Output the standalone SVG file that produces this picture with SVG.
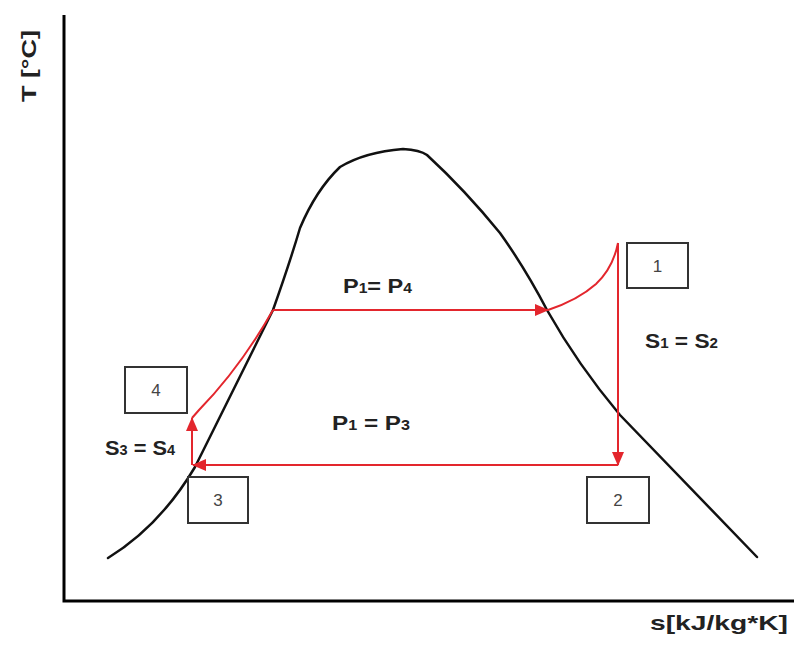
<svg xmlns="http://www.w3.org/2000/svg" width="794" height="648" viewBox="0 0 794 648">
<style>
.axis{stroke:#000;stroke-width:3;fill:none}
.dome{stroke:#111;stroke-width:2.5;fill:none;stroke-linejoin:round;stroke-linecap:round}
.cyc{stroke:#e3262d;stroke-width:2;fill:none}
.box{fill:#fff;stroke:#333;stroke-width:2}
.blab{font-family:"Liberation Sans",Arial,sans-serif;font-size:17px;fill:#444;text-anchor:middle}
.lab{font-family:"Liberation Sans",Arial,sans-serif;font-size:21px;font-weight:bold;fill:#222}
.sub{font-size:14px}
</style>
<defs>
<marker id="ah" markerWidth="14" markerHeight="12" refX="13" refY="6" orient="auto" markerUnits="userSpaceOnUse">
<path d="M0,0 L14,6 L0,12 Z" fill="#e3262d"/>
</marker>
</defs>
<rect width="794" height="648" fill="#fff"/>
<g id="axes">
<path class="axis" d="M64,15 L64,601 L794,601"/>
<text class="lab" transform="translate(36,102) rotate(-90)" textLength="72" lengthAdjust="spacingAndGlyphs">T [°C]</text>
<text class="lab" x="650" y="630" textLength="138" lengthAdjust="spacingAndGlyphs">s[kJ/kg*K]</text>
</g>
<g id="dome">
<path class="dome" d="M108,558 Q160,526 195,467 L273,310 Q290,262 300,228 Q316,190 340,167 Q365,152 403,149 Q420,150 427,155 Q465,190 500,233 Q525,268 547,310 Q578,365 620,415 L757,557"/>
</g>
<g id="connectors">
<path class="cyc" d="M273,310 L548,310" marker-end="url(#ah)"/>
<path class="cyc" d="M548,310 Q578,300 596,284 Q613,268 618,243"/>
<path class="cyc" d="M618,243 L618,465" marker-end="url(#ah)"/>
<path class="cyc" d="M618,465 L193,465" marker-end="url(#ah)"/>
<path class="cyc" d="M192,465 L192,418" marker-end="url(#ah)"/>
<path class="cyc" d="M192,418 L199,410 Q240,368 273,310"/>
</g>
<g id="node1">
<rect class="box" x="627" y="243" width="61" height="45"/>
<text class="blab" x="657.5" y="272">1</text>
</g>
<g id="node2">
<rect class="box" x="587" y="477" width="62" height="46"/>
<text class="blab" x="618" y="506">2</text>
</g>
<g id="node3">
<rect class="box" x="188" y="477" width="60" height="46"/>
<text class="blab" x="218" y="506">3</text>
</g>
<g id="node4">
<rect class="box" x="125" y="367" width="62" height="46"/>
<text class="blab" x="156" y="396">4</text>
</g>
<g id="labels">
<text class="lab" x="343" y="293" textLength="69" lengthAdjust="spacingAndGlyphs">P<tspan class="sub">1</tspan>= P<tspan class="sub">4</tspan></text>
<text class="lab" x="332" y="430" textLength="78" lengthAdjust="spacingAndGlyphs">P<tspan class="sub">1</tspan> = P<tspan class="sub">3</tspan></text>
<text class="lab" x="645" y="348" textLength="73" lengthAdjust="spacingAndGlyphs">S<tspan class="sub">1</tspan> = S<tspan class="sub">2</tspan></text>
<text class="lab" x="105" y="455" textLength="70" lengthAdjust="spacingAndGlyphs">S<tspan class="sub">3</tspan> = S<tspan class="sub">4</tspan></text>
</g>
</svg>
